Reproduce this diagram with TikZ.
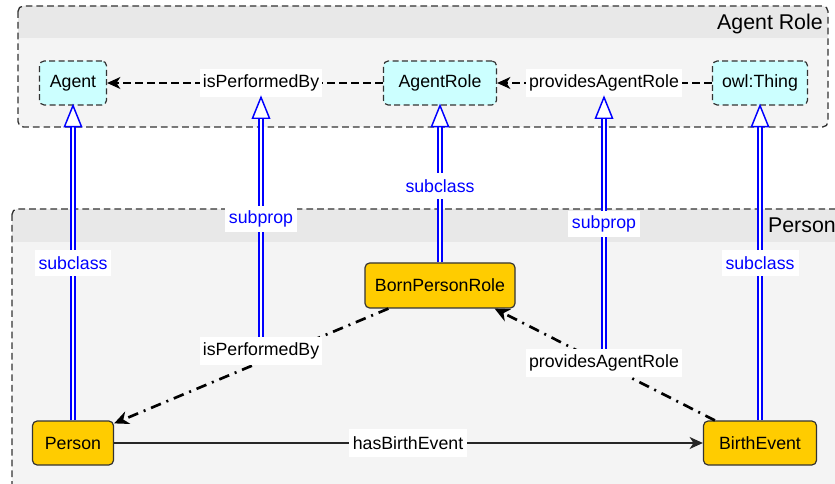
\documentclass[tikz,border=0pt]{standalone}
\usepackage{fontspec}
\setmainfont{Liberation Sans}
\usetikzlibrary{arrows.meta,calc}
\definecolor{cyanfill}{HTML}{CCFFFF}
\definecolor{goldfill}{HTML}{FFCC00}
\definecolor{contfill}{HTML}{F4F4F4}
\definecolor{headfill}{HTML}{E8E8E8}
\definecolor{edgegray}{HTML}{333333}
\definecolor{subblue}{HTML}{0000FF}
\begin{document}
\begin{tikzpicture}[x=0.75pt,y=-0.75pt,
  txt/.style={font=\fontsize{13.3}{15}\selectfont},
  cls/.style={txt, rounded corners=3.5pt, draw=edgegray, line width=0.9pt, minimum height=33pt, inner sep=0pt},
  agentcls/.style={cls, fill=cyanfill, dash pattern=on 4.5pt off 2.5pt},
  goldcls/.style={cls, fill=goldfill},
  edgelbl/.style={txt, fill=white, inner xsep=2.5pt, inner ysep=0pt, minimum height=21pt},
  sublbl/.style={txt, fill=white, text=subblue, inner xsep=3pt, inner ysep=0pt, minimum height=19.5pt},
  dblline/.style={draw=subblue, double=white, line width=1.2pt, double distance=1.6pt},
  openhead/.style={draw=subblue, fill=white, line width=1.1pt, line join=miter},
  dashedge/.style={draw=black, line width=1.1pt, dash pattern=on 6pt off 3pt, -{Stealth[length=10pt,width=9pt,inset=3pt]}},
  ddedge/.style={draw=black, line width=2pt, dash pattern=on 8pt off 4.5pt on 1.5pt off 4.5pt, -{Stealth[length=11pt,width=10pt,inset=3.5pt]}},
  solidedge/.style={draw=black!85, line width=1.1pt, -{Stealth[length=10pt,width=9pt,inset=3pt]}},
  contborder/.style={draw=edgegray, line width=1pt, dash pattern=on 5pt off 3pt, rounded corners=4pt},
  conttitle/.style={font=\fontsize{16}{19}\selectfont}
]
\useasboundingbox (0,0) rectangle (835,484);
\clip (0,0) rectangle (835,484);

% ---- containers ----
\fill[contfill, rounded corners=4pt] (18,6) rectangle (828,127);
\fill[headfill] (18,38) [rounded corners=4pt] -- (18,6) -- (828,6) [sharp corners] -- (828,38) -- cycle;
\draw[contborder] (18,6) rectangle (828,127);
\node[conttitle, anchor=base east, inner sep=0pt] (artitle) at (823,30) {Agent Role};

\fill[contfill, rounded corners=4pt] (12,209) rectangle (850,520);
\fill[headfill] (12,242) [rounded corners=4pt] -- (12,209) -- (850,209) [sharp corners] -- (850,242) -- cycle;
\draw[contborder] (12,209) rectangle (850,520);
\node[conttitle, anchor=base east, inner sep=0pt] (ptitle) at (836,233) {Person};

% ---- class nodes ----
\node[agentcls, minimum width=50.25pt] (agent) at (73,83) {Agent};
\node[agentcls, minimum width=84.75pt] (agentrole) at (440,83) {AgentRole};
\node[agentcls, minimum width=71.25pt] (owl) at (760,83) {owl:Thing};
\node[goldcls, minimum width=112.5pt, minimum height=33.75pt] (bpr) at (440,285.5) {BornPersonRole};
\node[goldcls, minimum width=60.75pt] (person) at (73,443) {Person};
\node[goldcls, minimum width=84.75pt] (birth) at (760,443) {BirthEvent};

% ---- relation edges ----
\draw[dashedge] (agentrole.west) -- (agent.east);
\draw[dashedge] (owl.west) -- (agentrole.east);
\draw[ddedge] ($(bpr.south west)+(24,0)$) -- ($(person.north east)+(0,3)$);
\draw[ddedge] ($(birth.north west)+(12,0)$) -- ($(bpr.south east)+(-21,0)$);
\draw[solidedge] (person.east) -- (birth.west);

% ---- relation labels ----
\node[edgelbl] (ipt) at (261,83) {isPerformedBy};
\node[edgelbl] (pat) at (604,83) {providesAgentRole};
\node[edgelbl] (ipb) at (261,351) {isPerformedBy};
\node[edgelbl] (pab) at (604,363) {providesAgentRole};
\node[edgelbl] (hbe) at (408,443) {hasBirthEvent};

% ---- subclass / subprop ----
\draw[dblline] (person.north) -- ([yshift=-15pt]agent.south);
\draw[openhead] (agent.south) -- ++(-8.5,21) -- ++(17,0) -- cycle;
\draw[dblline] (ipb.north) -- ([yshift=-15pt]ipt.south);
\draw[openhead] (ipt.south) -- ++(-8.5,21) -- ++(17,0) -- cycle;
\draw[dblline] (bpr.north) -- ([yshift=-15pt]agentrole.south);
\draw[openhead] (agentrole.south) -- ++(-8.5,21) -- ++(17,0) -- cycle;
\draw[dblline] (pab.north) -- ([yshift=-15pt]pat.south);
\draw[openhead] (pat.south) -- ++(-8.5,21) -- ++(17,0) -- cycle;
\draw[dblline] (birth.north) -- ([yshift=-15pt]owl.south);
\draw[openhead] (owl.south) -- ++(-8.5,21) -- ++(17,0) -- cycle;

\node[sublbl] (sc1) at (73,263) {subclass};
\node[sublbl] (sp1) at (261,219) {subprop};
\node[sublbl] (sc2) at (440,186) {subclass};
\node[sublbl] (sp2) at (604,224) {subprop};
\node[sublbl] (sc3) at (760,263) {subclass};
\end{tikzpicture}
\end{document}
